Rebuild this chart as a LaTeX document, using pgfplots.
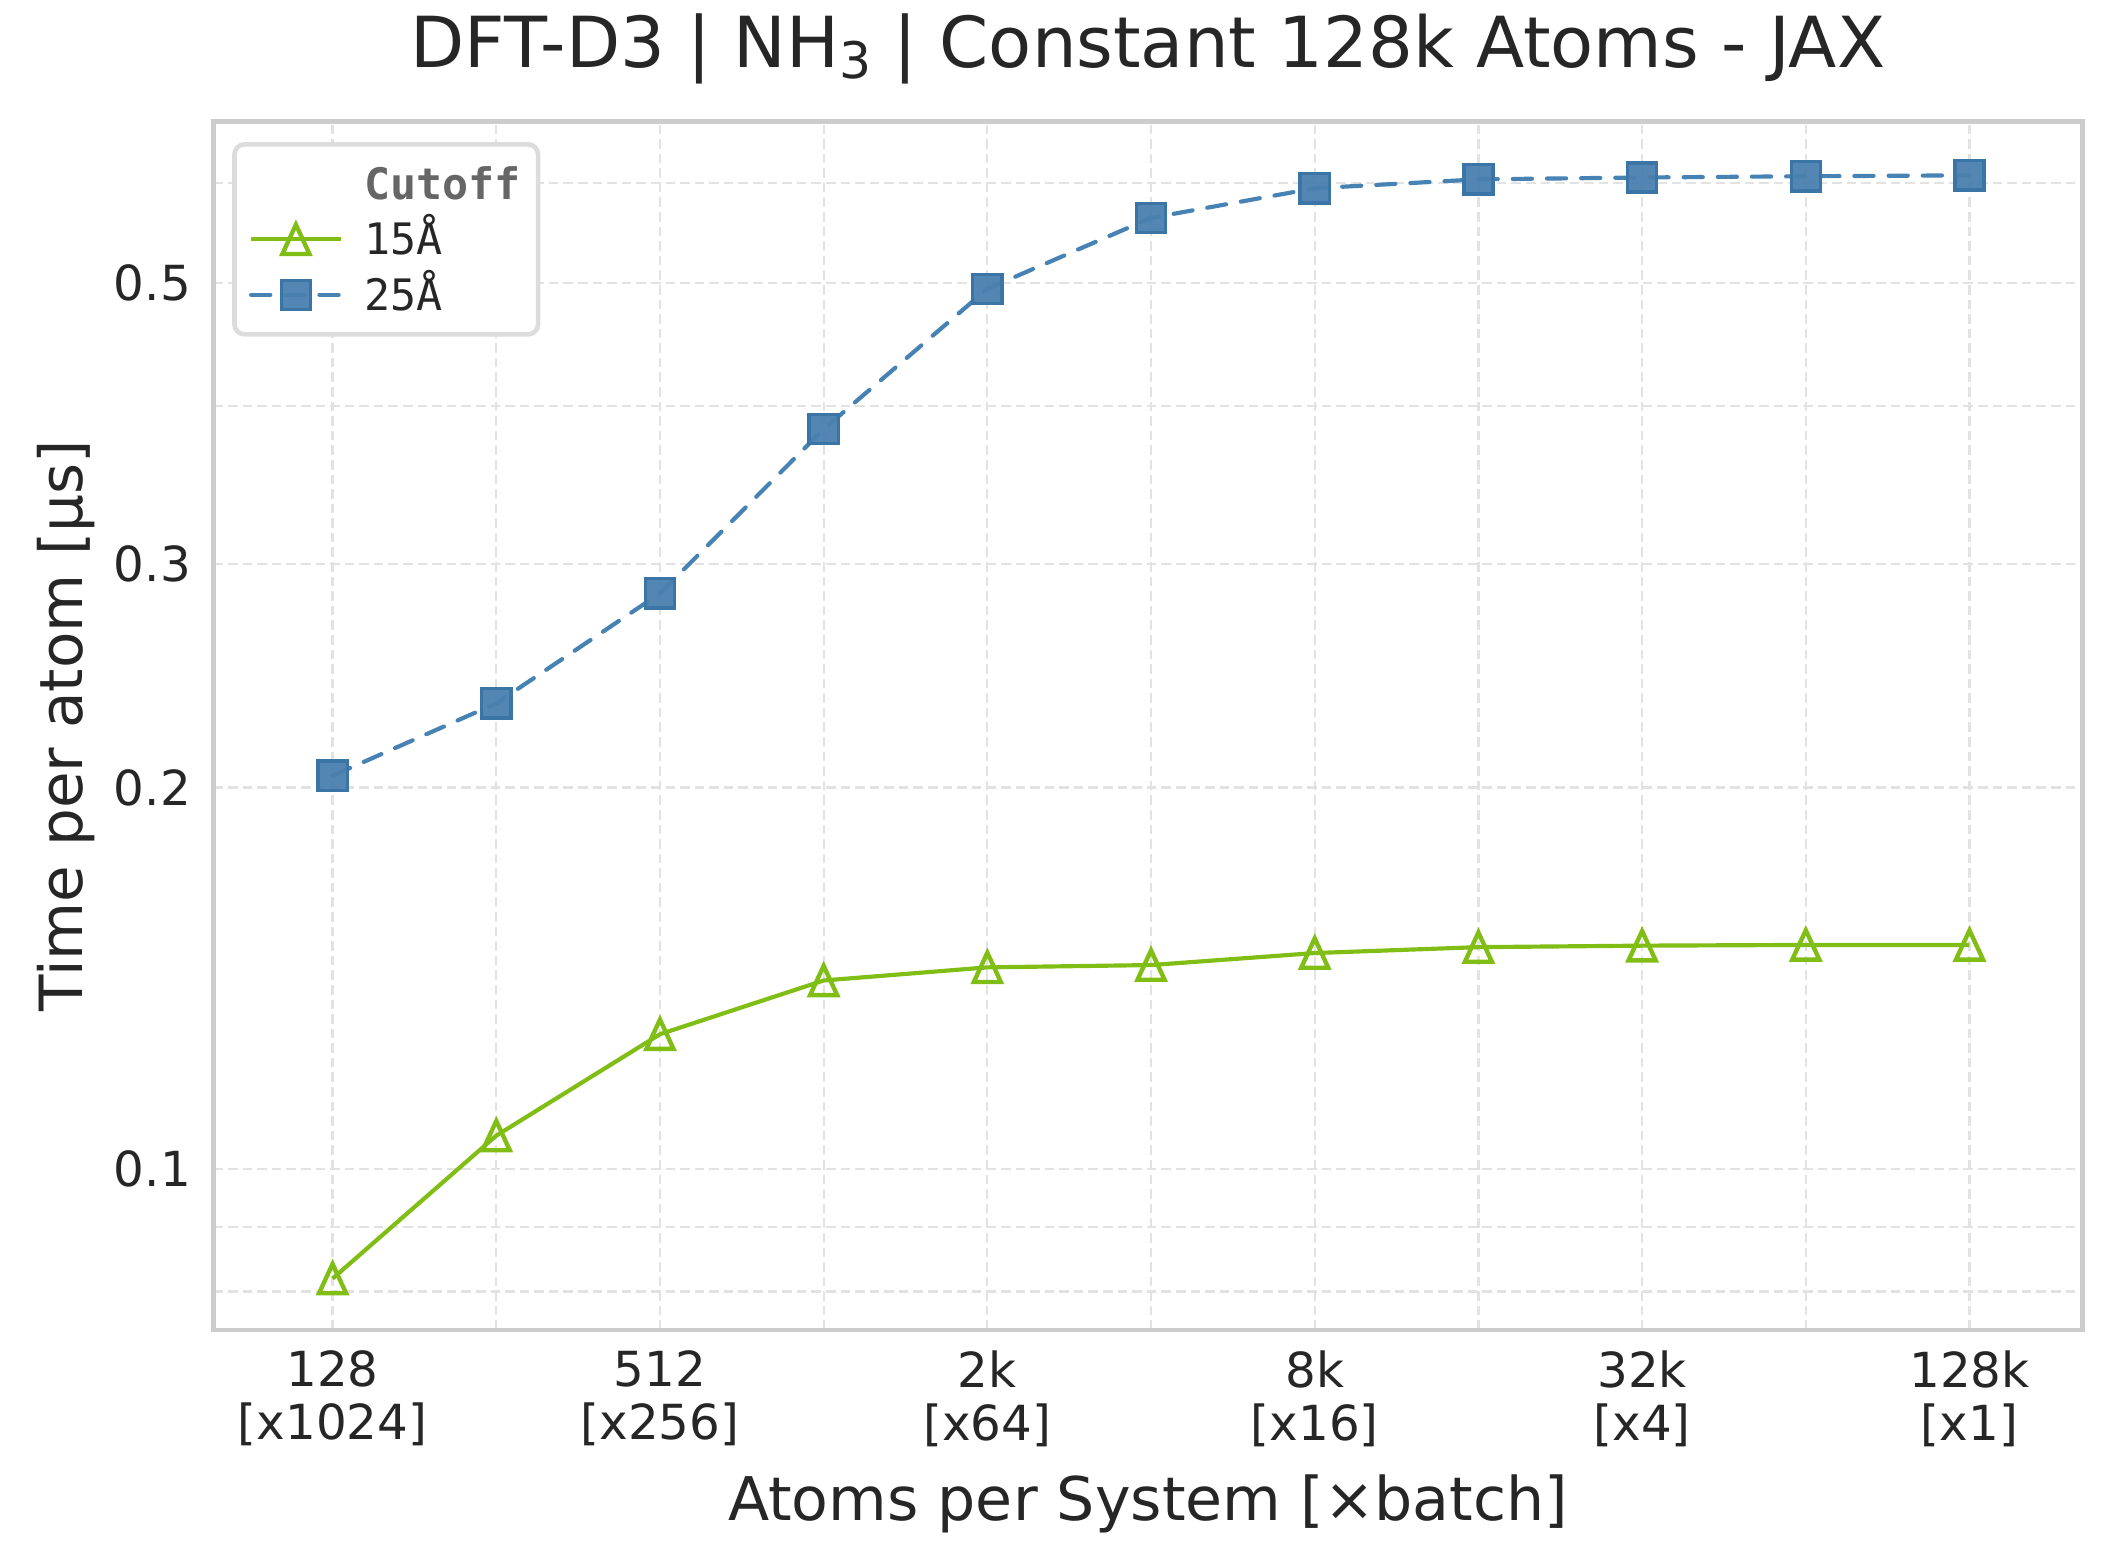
\documentclass[border=0pt]{standalone}
\usepackage{fontspec}
\setmainfont{DejaVu Sans}
\newfontfamily\monofont{DejaVu Sans Mono}
\usepackage{pgfplots}
\pgfplotsset{compat=1.18}
\definecolor{txt}{HTML}{262626}
\definecolor{frame}{HTML}{CCCCCC}
\definecolor{gridc}{HTML}{E2E2E2}
\definecolor{legframe}{HTML}{DCDCDC}
\definecolor{cgreen}{HTML}{80BD15}
\definecolor{cblue}{HTML}{4682B3}
\definecolor{cbluefill}{HTML}{4A80AE}
\definecolor{cblueedge}{HTML}{3A75A5}
\begin{document}
\begin{tikzpicture}
\begin{axis}[
  at={(51.22pt,57.12pt)}, anchor=south west,
  scale only axis, width=448.6pt, height=290.1pt,
  ymode=log, log basis y=10,
  xmin=-0.728, xmax=10.691, ymin=0.0746, ymax=0.6713,
  xtick={0,1,2,3,4,5,6,7,8,9,10},
  xticklabels={{128\\{[x1024]}},{},{512\\{[x256]}},{},{2k\\{[x64]}},{},{8k\\{[x16]}},{},{32k\\{[x4]}},{},{128k\\{[x1]}}},
  ytick={0.1,0.2,0.3,0.5},
  yticklabels={0.1,0.2,0.3,0.5},
  minor ytick={0.08,0.09,0.4,0.6},
  minor xtick={},
  grid=both,
  major grid style={draw=gridc, line width=0.55pt, dash pattern=on 2.3pt off 1.2pt},
  minor grid style={draw=gridc, line width=0.55pt, dash pattern=on 2.3pt off 1.2pt},
  tick style={draw=none},
  major tick length=0pt, minor tick length=0pt,
  axis line style={draw=frame, line width=1.15pt},
  tick label style={font=\fontsize{11.6}{12.8}\selectfont, text=txt},
  xticklabel style={align=center},
  xticklabel shift=1.4pt,
  yticklabel shift=1.9pt,
  /pgf/number format/assume math mode=true,
  title={DFT-D3 | NH\raisebox{-2.64pt}{\fontsize{12.1}{12}\selectfont 3} | Constant 128k Atoms - JAX},
  title style={font=\fontsize{16.9}{20}\selectfont, text=txt, at={(axis description cs:0.5,1.0234)}, anchor=base, inner sep=0pt},
  xlabel={Atoms per System [×batch]},
  xlabel style={font=\fontsize{14.45}{17}\selectfont, text=txt, at={(axis description cs:0.5,-0.1572)}, anchor=base, inner sep=0pt},
  ylabel={Time per atom [µs]},
  ylabel style={font=\fontsize{14.3}{17}\selectfont, text=txt, at={(axis description cs:-0.070,0.5)}, anchor=base, inner sep=0pt},
  legend cell align=left,
  legend image code/.code={
    \path (-1.15pt,0pt);
    \draw[mark repeat=2,mark phase=2,#1] plot coordinates {(0pt,0pt) (10.75pt,0pt) (21.5pt,0pt)};
  },
  legend style={
    at={(axis description cs:0,1)}, anchor=north west, xshift=4.5pt, yshift=-5pt,
    draw=legframe, line width=1.1pt, rounded corners=2.4pt, fill=white,
    inner xsep=2.35pt, inner ysep=4.4pt,
    row sep=3.1pt, column sep=3.45pt,
    font=\fontsize{10.4}{12}\selectfont\monofont, text=txt,
    nodes={inner xsep=1.75pt, inner ysep=0pt, text height=8.85pt, text depth=1.35pt},
  },
]
\addlegendimage{empty legend}
\addlegendentry{\textcolor[HTML]{666666}{\monofont\bfseries Cutoff}}
\addplot[color=cgreen, line width=1pt, mark=triangle,
  mark size=3.75pt,
  mark options={solid, draw=cgreen, fill=none, line width=1.05pt, yscale=1.25, yshift=-0.94pt}]
  coordinates {
  (0,0.0819) (1,0.1062) (2,0.1277) (3,0.1408) (4,0.1442) (5,0.1448)
  (6,0.1480) (7,0.1496) (8,0.1500) (9,0.1502) (10,0.1502)
  };
\addlegendentry{15Å}
\addplot[color=cblue, line width=1pt, line cap=round, dash pattern=on 4.6pt off 3.6pt,
  mark=square*, mark size=3.5pt,
  mark options={solid, draw=cblueedge, fill=cbluefill, fill opacity=0.95, line width=0.8pt}]
  coordinates {
  (0,0.2043) (1,0.2330) (2,0.2846) (3,0.3836) (4,0.4950) (5,0.5631)
  (6,0.5943) (7,0.6040) (8,0.6060) (9,0.6074) (10,0.6084)
  };
\addlegendentry{25Å}
\end{axis}
\pgfresetboundingbox
\path[use as bounding box] (0,0) rectangle (508.32pt,376.32pt);
\end{tikzpicture}
\end{document}
